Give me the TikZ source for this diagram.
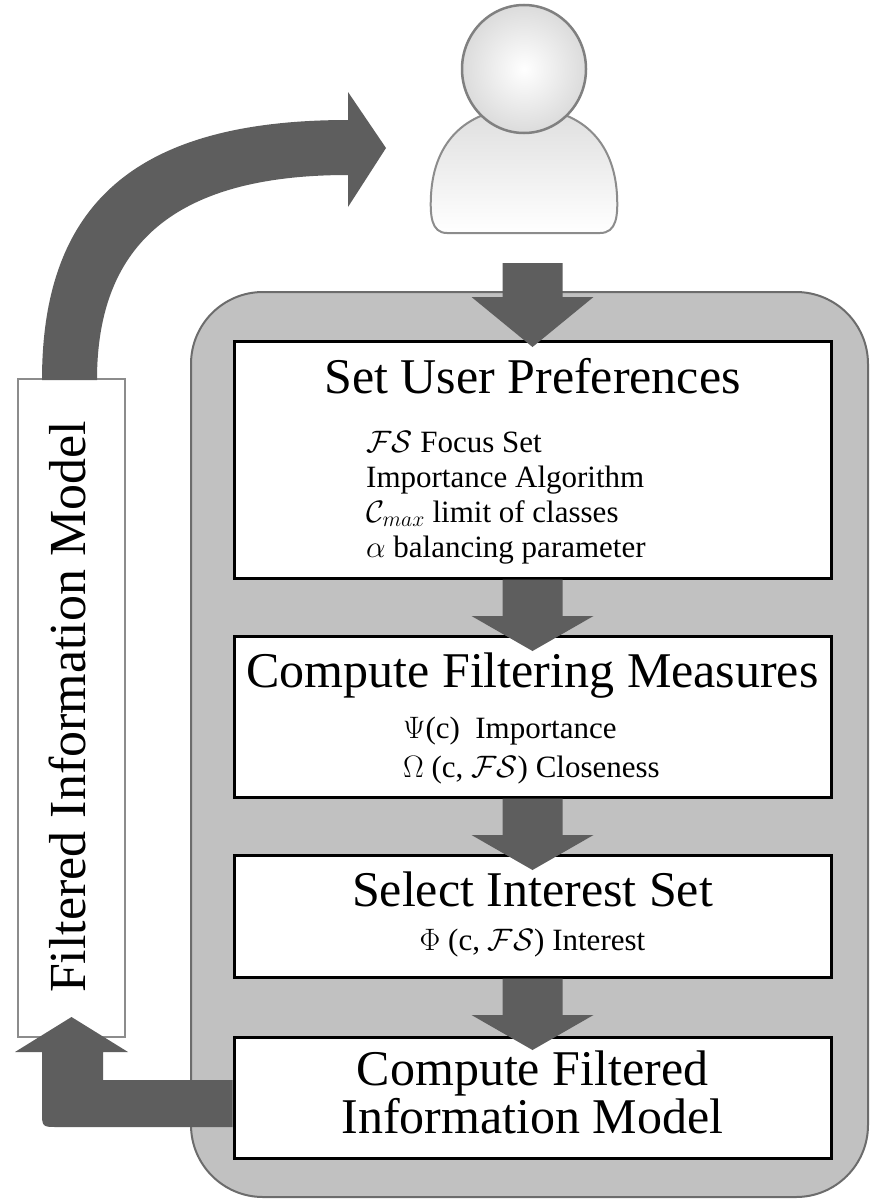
\RequirePackage{fix-cm}
\documentclass[tikz,border=0pt]{standalone}
\usepackage{fontspec}
\setmainfont{Liberation Serif}
\usetikzlibrary{shapes, arrows, positioning, calc}

\definecolor{arrowgray}{HTML}{5E5E5E}
\definecolor{panelgray}{HTML}{C1C1C1}
\definecolor{paneledge}{HTML}{6C6C6C}

% fat arrow: #1 from, #2 to, #3 gap, #4 head length, #5 overlap
\newcommand{\fatarrow}[5]{%
  \fill[arrowgray] let \p1=(#2.north), \p2=(#1.south) in
    (\x1-30pt,\y2-#3pt) -- (\x1+30pt,\y2-#3pt) -- (\x1+30pt,\y1-#5pt+#4pt)
    -- (\x1+61pt,\y1-#5pt+#4pt) -- (\x1,\y1-#5pt) -- (\x1-61pt,\y1-#5pt+#4pt)
    -- (\x1-30pt,\y1-#5pt+#4pt) -- cycle;}

\begin{document}
\begin{tikzpicture}[x=1pt, y=-1pt]

\tikzstyle{block} = [draw, shape=rectangle, fill=white, line width=3pt, minimum width=597pt, outer sep=0pt]
\tikzstyle{side} = [draw=black!45, shape=rectangle, fill=white, line width=2pt, minimum width=107pt, minimum height=658pt, outer sep=0pt]
\tikzstyle{title} = [anchor=base, inner sep=0pt, font=\fontsize{50pt}{50pt}\selectfont]
\tikzstyle{item} = [anchor=base west, inner sep=0pt, font=\fontsize{31pt}{35pt}\selectfont]

\useasboundingbox (0,0) rectangle (870,1199);
\fill[white] (0,0) rectangle (870,1199);

%Background Panel
\draw[fill=panelgray, draw=paneledge, line width=2pt, rounded corners=72pt] (191,292) rectangle (868,1197);

%Creating Blocks
\node [side] at (71.5,708) (fimbox) {};
\node [rotate=90, anchor=base, inner sep=0pt, font=\fontsize{52pt}{52pt}\selectfont] at (85,707) (fimlabel) {Filtered Information Model};

\node [block, minimum height=237pt] at (532.5,459.5) (pref) {};
\node [block, minimum height=161pt, below=58pt of pref] (meas) {};
\node [block, minimum height=122pt, below=58pt of meas] (sel) {};
\node [block, minimum height=121pt, below=60pt of sel] (fim) {};

%Block Texts
\node [title] at ([yshift=-52pt]pref.north) (preftitle) {Set User Preferences};
\foreach \txt [count=\i] in {{$\mathcal{FS}$ Focus Set}, Importance Algorithm, {$\mathcal{C}_{max}$ limit of classes}, {$\alpha$ balancing parameter}}
  \node [item] at ($(pref.north west)+(132,76+35*\i)$) (pref\i) {\txt};

\node [title] at ([yshift=-51pt]meas.north) (meastitle) {Compute Filtering Measures};
\node [item] at ($(meas.north west)+(169,102)$) (meas1) {$\Psi$(c)\ \ Importance};
\node [item] at ($(meas.north west)+(169,141)$) (meas2) {$\Omega$ (c, $\mathcal{FS}$) Closeness};

\node [title] at ([yshift=-51pt]sel.north) (seltitle) {Select Interest Set};
\node [item, anchor=base] at ([yshift=-95pt]sel.north) (sel1) {$\Phi$ (c, $\mathcal{FS}$) Interest};

\node [title] at ([yshift=-48pt]fim.north) (fimtitle1) {Compute Filtered};
\node [title] at ([yshift=-96pt]fim.north) (fimtitle2) {Information Model};

%User Icon
\node [minimum width=190pt, minimum height=230pt] at (524,118) (user) {};
\shadedraw[top color=black!13, bottom color=white, draw=black!45, line width=2pt]
  (447,233) -- (600,233) .. controls (617,233) and (618,215) .. (617,195)
  .. controls (614,140) and (580,108) .. (524,108)
  .. controls (468,108) and (434,140) .. (431,195)
  .. controls (430,215) and (431,233) .. (447,233) -- cycle;
\shadedraw[inner color=white, outer color=black!14, draw=black!50, line width=2.5pt]
  (524,69) ellipse [x radius=62, y radius=64];

%Conecting Blocks
\fatarrow{user}{pref}{30}{50}{6}
\fatarrow{pref}{meas}{1.5}{35}{15}
\fatarrow{meas}{sel}{1.5}{35}{15}
\fatarrow{sel}{fim}{1.5}{35}{13}

\fill[arrowgray] ($(fim.west)+(-1.5,-17.5)$) -- (103,1080) -- (103,1052) -- (128,1052)
  -- ($(fimbox.south)+(0,-20)$) -- (15,1052) -- (42,1052) -- (42,1111)
  .. controls (42,1127) .. (58,1127) -- ($(fim.west)+(-1.5,29.5)$) -- cycle;

\fill[arrowgray] ($(fimbox.north)+(-29.5,1)$) .. controls (42,200) and (140,120) .. (348,120)
  -- (348,92) -- (386,148) -- (348,207) -- (348,175)
  .. controls (180,175) and (97,240) .. ($(fimbox.north)+(25.5,1)$) -- cycle;

\end{tikzpicture}
\end{document}
